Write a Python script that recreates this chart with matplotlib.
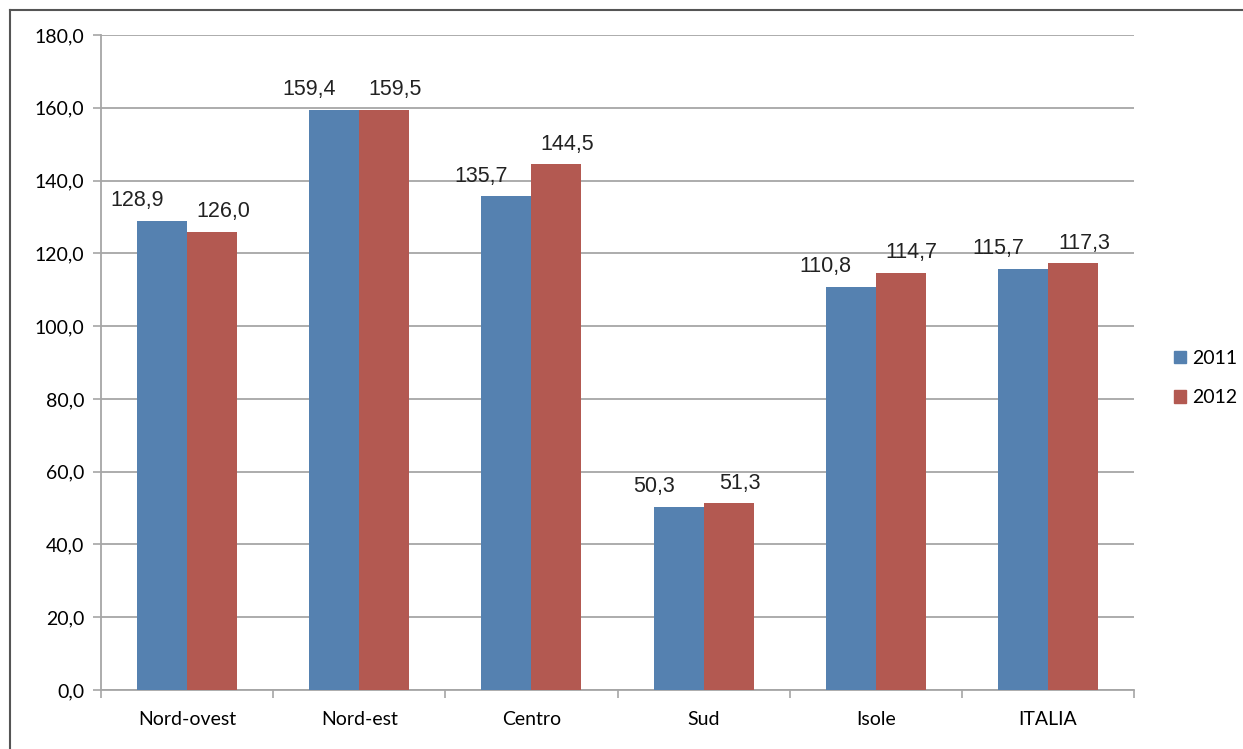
import numpy as np
import matplotlib.pyplot as plt
from matplotlib.lines import Line2D

categories = ['Nord-ovest', 'Nord-est', 'Centro', 'Sud', 'Isole', 'ITALIA']
years = ['2011', '2012']
values_2011 = [128.9, 159.4, 135.7, 50.3, 110.8, 115.7]
values_2012 = [126.0, 159.5, 144.5, 51.3, 114.7, 117.3]
yticks = [0, 20, 40, 60, 80, 100, 120, 140, 160, 180]

blue = '#5581B0'
red = '#B35951'
grid_col = '#A6A6A6'


def fmt(v):
    return f'{v:.1f}'.replace('.', ',')


fig = plt.figure(figsize=(12.43, 7.49), dpi=100)
ax = fig.add_axes([101 / 1243, 1 - 690 / 749, (1134 - 101) / 1243, (690 - 35) / 749])

x = np.arange(len(categories))
w = 0.29
b1 = ax.bar(x - w / 2, values_2011, w, color=blue, label=years[0], zorder=3)
b2 = ax.bar(x + w / 2, values_2012, w, color=red, label=years[1], zorder=3)

# labels sit a little off-centre, as in the original spreadsheet chart
for bars, vals, dx in ((b1, values_2011, -18), (b2, values_2012, 8)):
    for r, v in zip(bars, vals):
        ax.annotate(fmt(v), (r.get_x() + r.get_width() / 2, v),
                    xytext=(dx, 10.5), textcoords='offset points',
                    ha='center', va='baseline', fontsize=15.5,
                    family='Liberation Sans', color='#222222', zorder=4)

ax.set_xlim(-0.5, len(categories) - 0.5)
ax.set_ylim(0, 180)
ax.set_yticks(yticks)
ax.set_yticklabels([fmt(t) for t in yticks], fontsize=14, family='Lato')
ax.set_xticks(x)
ax.set_xticklabels(categories, fontsize=14, family='Lato')
ax.tick_params(axis='x', length=0, pad=15)
ax.tick_params(axis='y', length=6, width=1.2, color=grid_col, pad=6)
# category separators on x axis
ax.set_xticks(np.arange(-0.5, len(categories)), minor=True)
ax.tick_params(axis='x', which='minor', length=6, width=1.2, color=grid_col)

ax.yaxis.grid(True, color=grid_col, lw=1.3, zorder=0)
for s in ['top', 'right']:
    ax.spines[s].set_visible(False)
for s in ['left', 'bottom']:
    ax.spines[s].set_color(grid_col)
    ax.spines[s].set_linewidth(1.3)

handles = [plt.Rectangle((0, 0), 1, 1, color=blue), plt.Rectangle((0, 0), 1, 1, color=red)]
fig.legend(handles, years, loc='center left', bbox_to_anchor=(1174 / 1243, 1 - 378 / 749),
           frameon=False, prop={'family': 'Lato', 'size': 14},
           borderpad=0, borderaxespad=0,
           handlelength=0.62, handleheight=0.62, handletextpad=0.32, labelspacing=1.16)

# outer frame (top and left edges)
fig.add_artist(Line2D([10 / 1243, 1], [1 - 10 / 749, 1 - 10 / 749], color='#555555', lw=1.5))
fig.add_artist(Line2D([10 / 1243, 10 / 1243], [0, 1 - 10 / 749], color='#555555', lw=1.5))

fig.savefig('out.png', dpi=100)
